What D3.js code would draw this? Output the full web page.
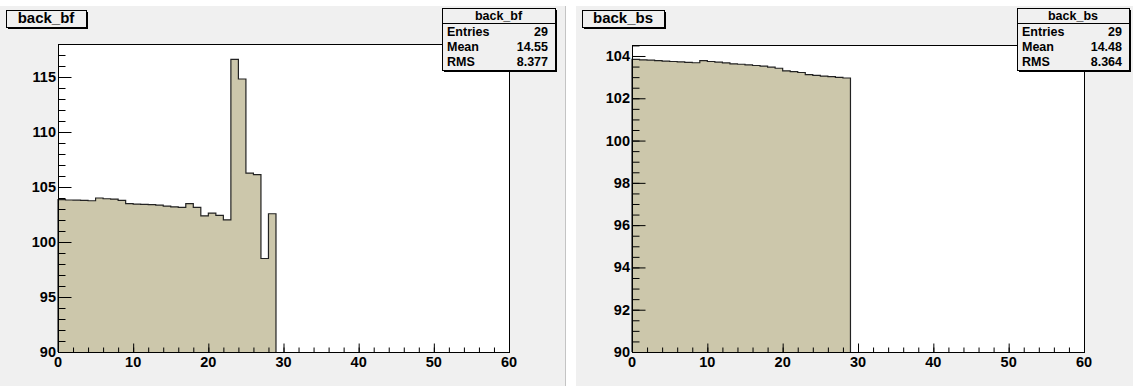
<!DOCTYPE html>
<html>
<head>
<meta charset="utf-8">
<script src="https://cdn.jsdelivr.net/npm/d3@7"></script>
<style>
  html, body { margin: 0; padding: 0; background: #ffffff; }
  svg { display: block; font-family: "Liberation Sans", Arial, Helvetica, sans-serif; font-weight: bold; }
</style>
</head>
<body>
<svg id="canvas" width="1133" height="386"></svg>
<script>
// Bin contents (bins of width 1 starting at 0)
const bfValues = [103.85, 103.82, 103.80, 103.78, 103.75, 104.00, 103.93, 103.90, 103.78, 103.48,
                  103.45, 103.42, 103.40, 103.35, 103.27, 103.20, 103.15, 103.48, 103.15, 102.38,
                  102.63, 102.42, 102.02, 116.60, 114.82, 106.27, 106.12, 98.50, 102.57];
const bsValues = [103.84, 103.82, 103.80, 103.78, 103.76, 103.74, 103.72, 103.70, 103.68, 103.78,
                  103.74, 103.71, 103.67, 103.63, 103.61, 103.58, 103.55, 103.52, 103.47, 103.42,
                  103.30, 103.26, 103.22, 103.12, 103.08, 103.05, 103.02, 102.99, 102.96];

// Axis ranges and tick values
const xRange = [0, 60];
const xMajorTicks = [0, 10, 20, 30, 40, 50, 60];
const xMinorTicks = d3.range(0, 61, 2);
const bfYRange = [90, 118];
const bfYMajorTicks = [90, 95, 100, 105, 110, 115];
const bfYMinorTicks = d3.range(90, 118.01, 1);
const bsYRange = [90, 104.52];
const bsYMajorTicks = [90, 92, 94, 96, 98, 100, 102, 104];
const bsYMinorTicks = d3.range(90, 104.51, 0.5);

// Statistics boxes
const bfStatsLabels = ["Entries", "Mean", "RMS"];
const bfStatsValues = ["29", "14.55", "8.377"];
const bsStatsLabels = ["Entries", "Mean", "RMS"];
const bsStatsValues = ["29", "14.48", "8.364"];

const svg = d3.select("#canvas");
const fillColor = "#ccc7ab";
const padColor = "#f0f0f0";
const labelSize = 14.5;

function tickLines(a) {
  a.select(".domain").remove();
  a.selectAll("text").remove();
  a.selectAll("line").attr("stroke", "#000");
}

function drawPad(cfg) {
  const g = svg.append("g");
  // pad background
  g.append("rect").attr("x", cfg.padX).attr("y", cfg.padY)
    .attr("width", cfg.padW).attr("height", cfg.padH).attr("fill", padColor);
  if (cfg.borderRight) {
    g.append("line").attr("x1", cfg.padX + cfg.padW + 0.5).attr("x2", cfg.padX + cfg.padW + 0.5)
      .attr("y1", cfg.padY).attr("y2", cfg.padY + cfg.padH)
      .attr("stroke", "#c4c4c4").attr("stroke-width", 1);
  }

  const x = d3.scaleLinear().domain(xRange).range([cfg.fx0, cfg.fx1]);
  const y = d3.scaleLinear().domain(cfg.yRange).range([cfg.fy1, cfg.fy0]);

  // frame
  g.append("rect").attr("x", cfg.fx0).attr("y", cfg.fy0)
    .attr("width", cfg.fx1 - cfg.fx0).attr("height", cfg.fy1 - cfg.fy0)
    .attr("fill", "#ffffff");

  // histogram
  const pts = cfg.values.map((v, i) => [i, v]);
  pts.push([cfg.values.length, cfg.values[cfg.values.length - 1]]);
  const area = d3.area().curve(d3.curveStepAfter)
    .x(d => x(d[0])).y0(y(cfg.yRange[0])).y1(d => y(d[1]));
  g.append("path").datum(pts).attr("d", area).attr("fill", fillColor);
  const outline = [[0, cfg.yRange[0]], ...pts, [cfg.values.length, cfg.yRange[0]]];
  const line = d3.line().curve(d3.curveStepAfter).x(d => x(d[0])).y(d => y(d[1]));
  g.append("path").datum(outline).attr("d", line)
    .attr("fill", "none").attr("stroke", "#222").attr("stroke-width", 1.2);

  // frame border
  g.append("rect").attr("x", cfg.fx0 + 0.5).attr("y", cfg.fy0 + 0.5)
    .attr("width", cfg.fx1 - cfg.fx0).attr("height", cfg.fy1 - cfg.fy0)
    .attr("fill", "none").attr("stroke", "#000").attr("stroke-width", 1);

  // x axis ticks pointing into the frame
  const xMinor = d3.axisBottom(x).tickValues(xMinorTicks).tickSize(-5);
  const xMajor = d3.axisBottom(x).tickValues(xMajorTicks).tickSize(-9);
  [xMinor, xMajor].forEach(ax => {
    g.append("g").attr("transform", `translate(0,${cfg.fy1 + 0.5})`).call(ax).call(tickLines);
  });
  g.append("g").selectAll("text").data(xMajorTicks).join("text")
    .attr("x", d => x(d)).attr("y", cfg.fy1 + 15)
    .attr("text-anchor", "middle").attr("font-size", labelSize)
    .attr("font-weight", "bold").attr("fill", "#000")
    .text(d => d);

  // y axis ticks
  const yMinor = d3.axisLeft(y).tickValues(cfg.yMinor).tickSize(-7);
  const yMajor = d3.axisLeft(y).tickValues(cfg.yMajor).tickSize(-13);
  [yMinor, yMajor].forEach(ax => {
    g.append("g").attr("transform", `translate(${cfg.fx0 + 0.5},0)`).call(ax).call(tickLines);
  });
  g.append("g").selectAll("text").data(cfg.yMajor).join("text")
    .attr("x", cfg.fx0 - 2).attr("y", d => y(d) + 5)
    .attr("text-anchor", "end").attr("font-size", labelSize)
    .attr("font-weight", "bold").attr("fill", "#000")
    .text(d => d);

  // title box
  const tb = cfg.titleBox;
  g.append("rect").attr("x", tb.x + 2).attr("y", tb.y + 2).attr("width", tb.w).attr("height", tb.h)
    .attr("fill", "#000");
  g.append("rect").attr("x", tb.x + 0.5).attr("y", tb.y + 0.5).attr("width", tb.w).attr("height", tb.h)
    .attr("fill", padColor).attr("stroke", "#000").attr("stroke-width", 1);
  g.append("text").attr("x", tb.x + tb.w / 2).attr("y", tb.y + tb.h - 4)
    .attr("text-anchor", "middle").attr("font-size", 15).text(cfg.name);

  // statistics box
  const sb = cfg.statsBox;
  g.append("rect").attr("x", sb.x + 2).attr("y", sb.y + 2).attr("width", sb.w).attr("height", sb.h)
    .attr("fill", "#000");
  g.append("rect").attr("x", sb.x + 0.5).attr("y", sb.y + 0.5).attr("width", sb.w).attr("height", sb.h)
    .attr("fill", padColor).attr("stroke", "#000").attr("stroke-width", 1);
  g.append("line").attr("x1", sb.x).attr("x2", sb.x + sb.w)
    .attr("y1", sb.y + 15.5).attr("y2", sb.y + 15.5).attr("stroke", "#000");
  g.append("text").attr("x", sb.x + sb.w / 2).attr("y", sb.y + 11.5)
    .attr("text-anchor", "middle").attr("font-size", 12.5).text(cfg.name);
  cfg.statsLabels.forEach((lab, i) => {
    const by = sb.y + 27.5 + i * 15.3;
    g.append("text").attr("x", sb.x + 5).attr("y", by).attr("font-size", 12.5).text(lab);
    g.append("text").attr("x", sb.x + sb.w - 7).attr("y", by).attr("text-anchor", "end")
      .attr("font-size", 12.5).text(cfg.statsValues[i]);
  });
}

drawPad({
  name: "back_bf",
  padX: 0, padY: 6, padW: 565, padH: 380, borderRight: true,
  fx0: 58, fx1: 509, fy0: 44, fy1: 352,
  yRange: bfYRange, yMajor: bfYMajorTicks, yMinor: bfYMinorTicks,
  values: bfValues,
  titleBox: { x: 6, y: 10, w: 80, h: 17 },
  statsBox: { x: 442, y: 8, w: 113, h: 62 },
  statsLabels: bfStatsLabels, statsValues: bfStatsValues
});

drawPad({
  name: "back_bs",
  padX: 576, padY: 6, padW: 557, padH: 380, borderRight: false,
  fx0: 632, fx1: 1084, fy0: 45, fy1: 352,
  yRange: bsYRange, yMajor: bsYMajorTicks, yMinor: bsYMinorTicks,
  values: bsValues,
  titleBox: { x: 582, y: 10, w: 82, h: 17 },
  statsBox: { x: 1017, y: 8, w: 112, h: 62 },
  statsLabels: bsStatsLabels, statsValues: bsStatsValues
});
</script>
</body>
</html>
